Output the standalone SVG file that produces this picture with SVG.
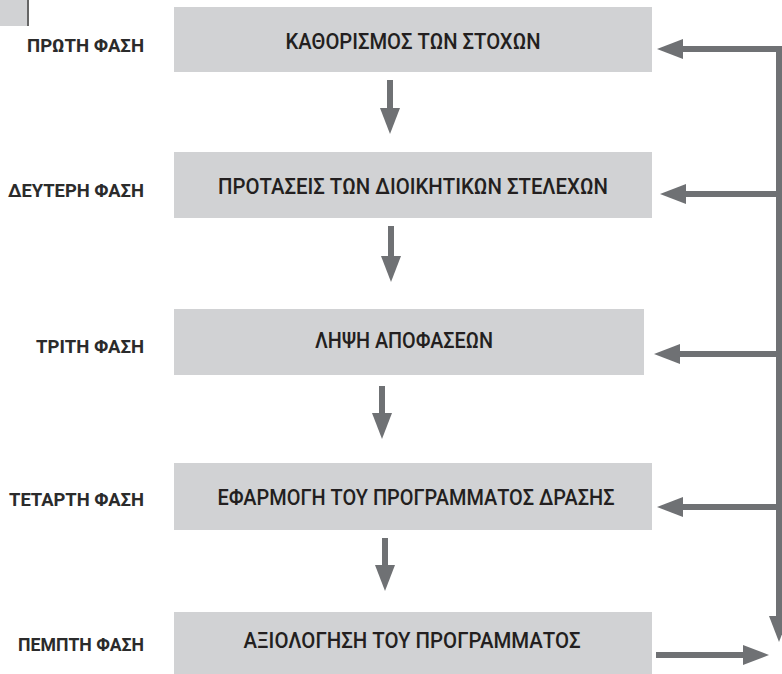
<svg xmlns="http://www.w3.org/2000/svg" width="782" height="674" viewBox="0 0 782 674">
<style>
.box{fill:#d1d2d4}
.bt{font-family:Roboto,"Liberation Sans","DejaVu Sans",sans-serif;font-size:22px;font-weight:500;fill:#231f20;text-anchor:middle}
.lb{font-family:Roboto,"Liberation Sans","DejaVu Sans",sans-serif;font-size:18px;font-weight:bold;fill:#2b2b2b;text-anchor:end}
.ar{stroke:#6f7174;stroke-width:6;fill:none}
</style>
<defs>
<marker id="ah" markerUnits="userSpaceOnUse" markerWidth="26" markerHeight="20" viewBox="0 0 26 20" refX="0" refY="10" orient="auto">
<path d="M0,0 L26,10 L0,20 z" fill="#6f7174"/>
</marker>
</defs>
<rect class="box" x="0" y="0" width="27" height="26"/>
<line x1="28" y1="0" x2="28" y2="26" stroke="#333" stroke-width="1.5"/>
<g id="n1">
<rect class="box" x="174" y="7" width="478" height="65"/>
<text class="bt" x="413" y="48.5" textLength="255" lengthAdjust="spacingAndGlyphs">ΚΑΘΟΡΙΣΜΟΣ ΤΩΝ ΣΤΟΧΩΝ</text>
<text class="lb" x="144" y="52" textLength="117" lengthAdjust="spacingAndGlyphs">ΠΡΩΤΗ ΦΑΣΗ</text>
</g>
<g id="n2">
<rect class="box" x="174" y="152" width="478" height="66"/>
<text class="bt" x="413" y="194" textLength="390" lengthAdjust="spacingAndGlyphs">ΠΡΟΤΑΣΕΙΣ ΤΩΝ ΔΙΟΙΚΗΤΙΚΩΝ ΣΤΕΛΕΧΩΝ</text>
<text class="lb" x="144" y="197" textLength="136" lengthAdjust="spacingAndGlyphs">ΔΕΥΤΕΡΗ ΦΑΣΗ</text>
</g>
<g id="n3">
<rect class="box" x="174" y="309" width="470" height="66"/>
<text class="bt" x="404" y="348" textLength="178" lengthAdjust="spacingAndGlyphs">ΛΗΨΗ ΑΠΟΦΑΣΕΩΝ</text>
<text class="lb" x="144" y="353" textLength="108" lengthAdjust="spacingAndGlyphs">ΤΡΙΤΗ ΦΑΣΗ</text>
</g>
<g id="n4">
<rect class="box" x="174" y="463" width="478" height="67"/>
<text class="bt" x="416" y="505" textLength="397" lengthAdjust="spacingAndGlyphs">ΕΦΑΡΜΟΓΗ ΤΟΥ ΠΡΟΓΡΑΜΜΑΤΟΣ ΔΡΑΣΗΣ</text>
<text class="lb" x="144" y="506" textLength="135" lengthAdjust="spacingAndGlyphs">ΤΕΤΑΡΤΗ ΦΑΣΗ</text>
</g>
<g id="n5">
<rect class="box" x="174" y="612" width="478" height="66"/>
<text class="bt" x="412" y="648" textLength="337" lengthAdjust="spacingAndGlyphs">ΑΞΙΟΛΟΓΗΣΗ ΤΟΥ ΠΡΟΓΡΑΜΜΑΤΟΣ</text>
<text class="lb" x="144" y="651" textLength="126" lengthAdjust="spacingAndGlyphs">ΠΕΜΠΤΗ ΦΑΣΗ</text>
</g>
<g id="connectors">
<path class="ar" d="M390,80 V108" marker-end="url(#ah)"/>
<path class="ar" d="M391,226 V256" marker-end="url(#ah)"/>
<path class="ar" d="M382,386 V413" marker-end="url(#ah)"/>
<path class="ar" d="M385,538 V565" marker-end="url(#ah)"/>
<path class="ar" d="M779,46 V616" marker-end="url(#ah)"/>
<path class="ar" d="M782,49 H683" marker-end="url(#ah)"/>
<path class="ar" d="M782,194 H686" marker-end="url(#ah)"/>
<path class="ar" d="M782,354 H680" marker-end="url(#ah)"/>
<path class="ar" d="M782,507 H683" marker-end="url(#ah)"/>
<path class="ar" d="M656,655 H743" marker-end="url(#ah)"/>
</g>
</svg>
